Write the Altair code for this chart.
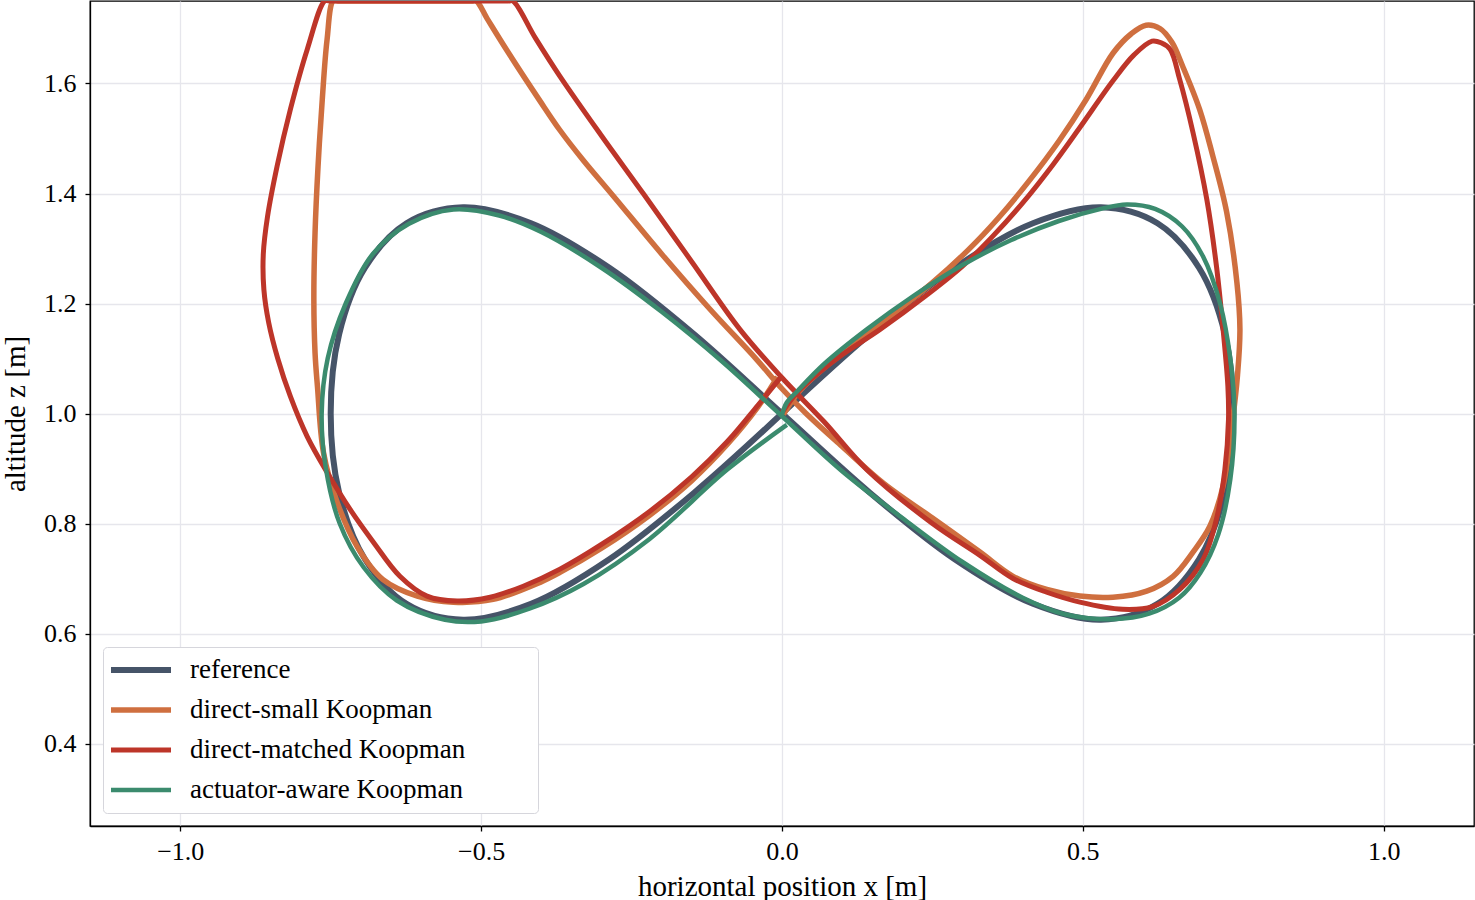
import altair as alt
import pandas as pd

# Series names, colours and line widths (drawn in this order)
SERIES = ["reference", "direct-small Koopman", "direct-matched Koopman", "actuator-aware Koopman"]
COLORS = ["#465468", "#cf6f3f", "#bd3529", "#3b8b6e"]
WIDTHS = [6.0, 4.5, 4.5, 4.5]

# Reference figure-eight trajectory (x, z in metres)
ref_x = [0.0, 0.146, 0.287, 0.417, 0.530, 0.624, 0.693, 0.736, 0.750, 0.736, 0.693,
         0.624, 0.530, 0.417, 0.287, 0.146, 0.0, -0.146, -0.287, -0.417, -0.530,
         -0.624, -0.693, -0.736, -0.750, -0.736, -0.693, -0.624, -0.530, -0.417,
         -0.287, -0.146, 0.0]
ref_z = [1.0, 1.144, 1.265, 1.346, 1.375, 1.346, 1.265, 1.144, 1.0, 0.856, 0.735,
         0.654, 0.625, 0.654, 0.735, 0.856, 1.0, 1.144, 1.265, 1.346, 1.375,
         1.346, 1.265, 1.144, 1.0, 0.856, 0.735, 0.654, 0.625, 0.654,
         0.735, 0.856, 1.0]

# direct-small Koopman closed loop (z held at the 1.75 m ceiling where it leaves the view)
small_x = [0.005, 0.03, 0.07, 0.12, 0.17, 0.25, 0.31, 0.36, 0.41, 0.46, 0.505, 0.55, 0.58,
           0.605, 0.628, 0.648, 0.666, 0.694, 0.716, 0.739, 0.756, 0.761, 0.757, 0.749, 0.733,
           0.711, 0.683, 0.65, 0.606, 0.55, 0.495, 0.44, 0.384, 0.329, 0.25, 0.17, 0.10,
           0.04, 0.0, -0.042, -0.12, -0.20, -0.28, -0.33, -0.369, -0.402, -0.457, -0.49, -0.508,
           -0.516, -0.62, -0.738, -0.746, -0.756, -0.764, -0.771, -0.776, -0.778, -0.776,
           -0.772, -0.762, -0.739, -0.706, -0.663, -0.606, -0.546, -0.48, -0.402, -0.369,
           -0.30, -0.22, -0.15, -0.09, -0.04, -0.01]
small_z = [1.003, 1.042, 1.083, 1.125, 1.168, 1.238, 1.298, 1.356, 1.422, 1.495, 1.57, 1.655, 1.69,
           1.706, 1.70, 1.675, 1.631, 1.553, 1.468, 1.366, 1.238, 1.153, 1.07, 0.989, 0.868,
           0.795, 0.748, 0.704, 0.677, 0.666, 0.668, 0.68, 0.704, 0.748, 0.81, 0.872, 0.94,
           1.0, 1.045, 1.098, 1.19, 1.29, 1.395, 1.46, 1.515, 1.568, 1.66, 1.718, 1.75,
           1.75, 1.75, 1.75, 1.75, 1.68, 1.571, 1.45, 1.329, 1.208, 1.11,
           1.049, 0.929, 0.838, 0.758, 0.698, 0.668, 0.657, 0.662, 0.693, 0.711,
           0.755, 0.815, 0.878, 0.945, 1.012, 1.062]

# direct-matched Koopman closed loop
matched_x = [0.002, 0.025, 0.06, 0.10, 0.163, 0.24, 0.30, 0.35, 0.40, 0.45, 0.495, 0.55, 0.585,
             0.615, 0.63, 0.645, 0.661, 0.683, 0.706, 0.722, 0.733, 0.741, 0.742, 0.736, 0.722,
             0.70, 0.661, 0.616, 0.566, 0.495, 0.44, 0.384, 0.329, 0.25, 0.141, 0.07, 0.0,
             -0.07, -0.15, -0.23, -0.30, -0.369, -0.41, -0.447, -0.455, -0.60, -0.752, -0.76,
             -0.789, -0.817, -0.839, -0.855, -0.862, -0.861, -0.853, -0.838, -0.817, -0.789,
             -0.756, -0.718, -0.679, -0.635, -0.59, -0.54, -0.485, -0.43, -0.369, -0.30, -0.22,
             -0.15, -0.09, -0.04, -0.005]
matched_z = [1.005, 1.038, 1.073, 1.107, 1.153, 1.215, 1.268, 1.322, 1.383, 1.452, 1.52, 1.605, 1.652,
             1.677, 1.674, 1.662, 1.607, 1.511, 1.389, 1.268, 1.153, 1.049, 0.989, 0.898, 0.808,
             0.735, 0.68, 0.649, 0.644, 0.657, 0.675, 0.70, 0.742, 0.80, 0.898, 0.985, 1.065,
             1.153, 1.276, 1.399, 1.505, 1.613, 1.683, 1.75, 1.75, 1.75, 1.75, 1.75,
             1.662, 1.553, 1.45, 1.358, 1.29, 1.225, 1.165, 1.10, 1.031, 0.958,
             0.893, 0.826, 0.766, 0.704, 0.668, 0.659, 0.666, 0.686, 0.717, 0.762, 0.822,
             0.885, 0.95, 1.015, 1.062]

# actuator-aware Koopman closed loop
aware_x = [0.0, 0.008, 0.025, 0.07, 0.141, 0.22, 0.30, 0.38, 0.46, 0.53, 0.573, 0.62, 0.665,
           0.70, 0.728, 0.745, 0.752, 0.745, 0.725, 0.695, 0.66, 0.61, 0.55, 0.47, 0.40, 0.30,
           0.20, 0.10, 0.0, -0.10, -0.20, -0.30, -0.40, -0.47, -0.546, -0.62, -0.68, -0.725,
           -0.755, -0.765, -0.758, -0.735, -0.695, -0.64, -0.56, -0.50, -0.42, -0.33, -0.22,
           -0.091, 0.005]
aware_z = [0.998, 1.02, 1.04, 1.09, 1.153, 1.215, 1.27, 1.315, 1.35, 1.372, 1.38, 1.372, 1.34,
           1.285, 1.20, 1.10, 1.0, 0.88, 0.78, 0.71, 0.665, 0.636, 0.626, 0.635, 0.665, 0.73,
           0.81, 0.895, 0.995, 1.095, 1.185, 1.265, 1.33, 1.36, 1.371, 1.345, 1.29, 1.20,
           1.10, 1.0, 0.9, 0.8, 0.72, 0.66, 0.625, 0.622, 0.645, 0.69, 0.772,
           0.898, 0.977]

X_TICKS = [-1.0, -0.5, 0.0, 0.5, 1.0]
Z_TICKS = [0.4, 0.6, 0.8, 1.0, 1.2, 1.4, 1.6]

frames = []
for name, xs, zs in zip(SERIES, [ref_x, small_x, matched_x, aware_x],
                        [ref_z, small_z, matched_z, aware_z]):
    frames.append(pd.DataFrame({"x": xs, "z": zs, "series": name, "step": range(len(xs))}))
data = pd.concat(frames, ignore_index=True)

FONT = "Liberation Serif"
# blank run after each label (kept by a zero-width end mark) to widen the legend frame
LABEL_PAD = "\u00a0" * 10 + "\u200b"

base = alt.Chart(data).mark_line(
    interpolate="catmull-rom", clip=True, strokeCap="square", strokeJoin="round"
).encode(
    x=alt.X("x:Q",
            scale=alt.Scale(domain=[-1.15, 1.15], nice=False, zero=False),
            axis=alt.Axis(values=X_TICKS, format=".1f", title="horizontal position x [m]")),
    y=alt.Y("z:Q",
            scale=alt.Scale(domain=[0.25, 1.75], nice=False, zero=False),
            axis=alt.Axis(values=Z_TICKS, format=".1f", title="altitude z [m]")),
    color=alt.Color("series:N",
                    scale=alt.Scale(domain=SERIES, range=COLORS),
                    legend=alt.Legend(
                        title=None, orient="none", legendX=13, legendY=646,
                        symbolType="stroke", symbolSize=3600, symbolStrokeWidth=5,
                        labelFont=FONT, labelFontSize=27, labelColor="black",
                        labelExpr=f"datum.label + '{LABEL_PAD}'",
                        labelOffset=16, labelLimit=700, clipHeight=36, rowPadding=4,
                        padding=5, strokeColor="#d6d6dc", fillColor="white",
                        cornerRadius=4)),
    strokeWidth=alt.StrokeWidth("series:N",
                                scale=alt.Scale(domain=SERIES, range=WIDTHS),
                                legend=None),
    order="step:Q",
)

layers = [base.transform_filter(alt.datum.series == s) for s in SERIES]

chart = alt.layer(*layers).properties(
    width=1384, height=825,
    autosize=alt.AutoSizeParams(type="none"),
    padding={"left": 90, "top": 1, "right": 1, "bottom": 74},
).configure_view(
    stroke="black", strokeWidth=1.3
).configure_axis(
    labelFont=FONT, titleFont=FONT, labelFontSize=26, titleFontSize=29,
    labelColor="black", titleColor="black", titleFontWeight="normal",
    tickColor="black", domainColor="black", domainWidth=1.3, tickWidth=1.3, tickSize=5,
    gridColor="#e6e6ec", gridWidth=1.3,
).configure_axisX(labelPadding=7, titlePadding=8).configure_axisY(labelPadding=9, titlePadding=13)

chart.save("out.html", embed_options={"renderer": "svg", "actions": False})
